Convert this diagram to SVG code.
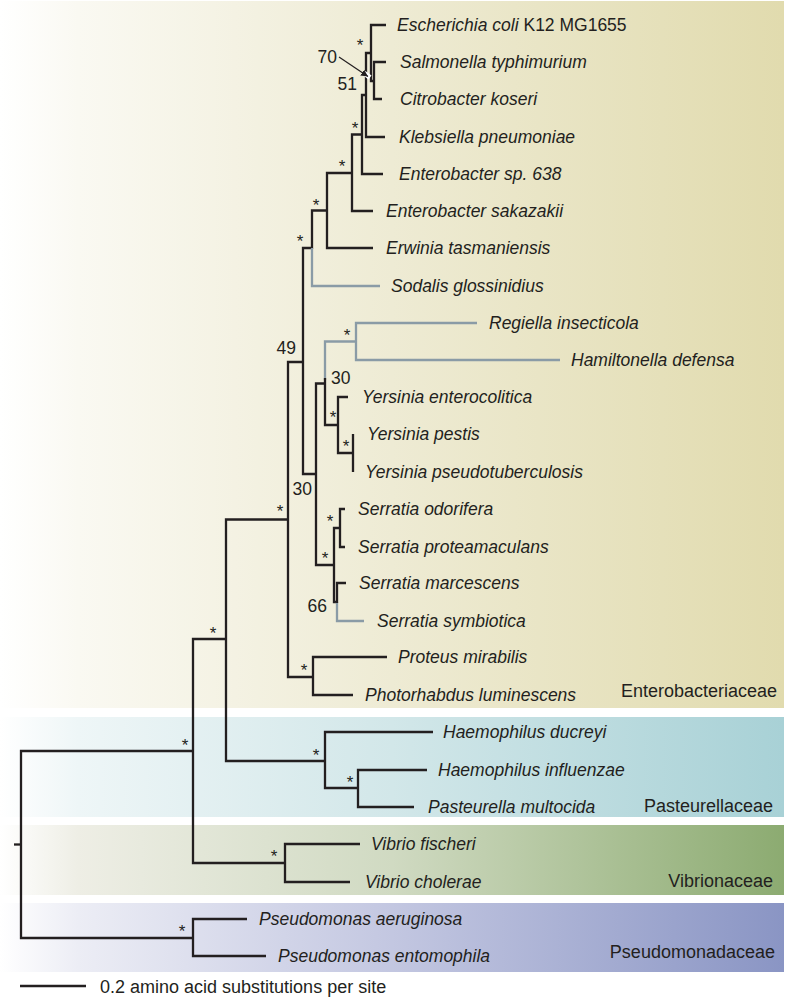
<svg xmlns="http://www.w3.org/2000/svg" width="786" height="1008" viewBox="0 0 786 1008">
<defs>
<linearGradient id="gEnt" x1="0" y1="0" x2="1" y2="0">
<stop offset="0" stop-color="#ffffff"/><stop offset="0.1" stop-color="#faf9f2"/><stop offset="0.5" stop-color="#eeebd4"/><stop offset="1" stop-color="#e1dbae"/>
</linearGradient>
<linearGradient id="gPas" x1="0" y1="0" x2="1" y2="0">
<stop offset="0" stop-color="#ffffff"/><stop offset="0.1" stop-color="#eef6f7"/><stop offset="0.5" stop-color="#d2e7e9"/><stop offset="1" stop-color="#a8d1d6"/>
</linearGradient>
<linearGradient id="gVib" x1="0" y1="0" x2="1" y2="0">
<stop offset="0" stop-color="#ffffff"/><stop offset="0.1" stop-color="#eeeee5"/><stop offset="0.5" stop-color="#d0dac2"/><stop offset="1" stop-color="#8cab71"/>
</linearGradient>
<linearGradient id="gPse" x1="0" y1="0" x2="1" y2="0">
<stop offset="0" stop-color="#ffffff"/><stop offset="0.1" stop-color="#ecedf5"/><stop offset="0.5" stop-color="#c3c7e1"/><stop offset="1" stop-color="#8a95c4"/>
</linearGradient>
<marker id="ah" viewBox="0 0 10 10" refX="10" refY="5" markerWidth="7" markerHeight="7" markerUnits="userSpaceOnUse" orient="auto">
<path d="M0 0 L10 5 L0 10 Z" fill="#231f20"/>
</marker>
</defs>
<style>
.br{fill:none;stroke:#231f20;stroke-width:2.3;stroke-linejoin:miter;stroke-linecap:butt}
.gr{fill:none;stroke:#8a9ba6;stroke-width:2.3;stroke-linejoin:miter}
.sp{font-family:"Liberation Sans",Arial,sans-serif;font-style:italic;font-size:17.5px;fill:#231f20}
.up{font-style:normal}
.fam{font-family:"Liberation Sans",Arial,sans-serif;font-size:18px;fill:#231f20;text-anchor:end}
.num{font-family:"Liberation Sans",Arial,sans-serif;font-size:17.5px;fill:#231f20}
.ast{font-family:"Liberation Sans",Arial,sans-serif;font-size:17px;fill:#231f20;text-anchor:middle}
</style>
<rect width="786" height="1008" fill="#ffffff"/>
<g id="bands">
<rect id="band-ent" x="0" y="1" width="784" height="707" fill="url(#gEnt)"/>
<rect id="band-pas" x="0" y="717" width="784" height="100" fill="url(#gPas)"/>
<rect id="band-vib" x="0" y="825" width="784" height="70" fill="url(#gVib)"/>
<rect id="band-pse" x="0" y="903" width="784" height="69" fill="url(#gPse)"/>
</g>
<g id="connectors">
<path class="br" d="M14 844.5 H21"/>
<path class="br" d="M193 751 H21 V938 H193"/>
<path class="br" d="M247 919 H193 V956 H266"/>
<path class="br" d="M226 639 H193 V863 H285"/>
<path class="br" d="M360 844 H285 V882 H350"/>
<path class="br" d="M288 519.5 H226 V761 H325"/>
<path class="br" d="M433 732 H325 V788 H358"/>
<path class="br" d="M427 770 H358 V807 H414"/>
<path class="br" d="M303 362 H288 V677 H313"/>
<path class="br" d="M387 657 H313 V695 H353"/>
<path class="br" d="M312 248 H303 V474 H316"/>
<path class="br" d="M327 210.5 H312 V249"/>
<path class="gr" d="M312 248 V286 H380"/>
<path class="br" d="M352 173 H327 V248 H373"/>
<path class="br" d="M362 134.5 H352 V211 H373"/>
<path class="br" d="M366 95 H362 V174 H383"/>
<path class="br" d="M371 53 H366 V137 H385"/>
<path class="br" d="M386 25 H371 V81 H374"/>
<path class="br" d="M386 62 H374 V99 H382"/>
<path class="br" d="M325 383.5 H316 V565 H334"/>
<path class="gr" d="M356 341.5 H325 V380"/>
<path class="br" d="M325 378 V425 H338"/>
<path class="gr" d="M477 323 H356 V360 H560"/>
<path class="br" d="M348 397 H338 V453 H353"/>
<path class="br" d="M353 434 V472"/>
<path class="br" d="M340 528 H334 V602 H337"/>
<path class="br" d="M345 509 H340 V547 H345"/>
<path class="gr" d="M337 602 V621 H364"/>
<path class="br" d="M346 583 H337 V603"/>
<path class="br" d="M20 986 H86"/>
</g>
<g id="support">
<text class="ast" x="360" y="51">*</text>
<text class="ast" x="355" y="134">*</text>
<text class="ast" x="342" y="172">*</text>
<text class="ast" x="316" y="211">*</text>
<text class="ast" x="300" y="247">*</text>
<text class="ast" x="347" y="341">*</text>
<text class="ast" x="333" y="423">*</text>
<text class="ast" x="346" y="452">*</text>
<text class="ast" x="330" y="527">*</text>
<text class="ast" x="325" y="564">*</text>
<text class="ast" x="280" y="517">*</text>
<text class="ast" x="304" y="676">*</text>
<text class="ast" x="213" y="639">*</text>
<text class="ast" x="316" y="761">*</text>
<text class="ast" x="350" y="788">*</text>
<text class="ast" x="185" y="751">*</text>
<text class="ast" x="274" y="862">*</text>
<text class="ast" x="182" y="937">*</text>
<text class="num" x="337" y="63" text-anchor="end">70</text>
<text class="num" x="357" y="90" text-anchor="end">51</text>
<text class="num" x="296" y="354" text-anchor="end">49</text>
<text class="num" x="331" y="384">30</text>
<text class="num" x="312" y="495" text-anchor="end">30</text>
<text class="num" x="327" y="612" text-anchor="end">66</text>
<path d="M364 73 L370 77.5" stroke="#ffffff" stroke-width="5" fill="none"/>
<path d="M339 57 L368 76.5" stroke="#231f20" stroke-width="1.2" fill="none" marker-end="url(#ah)"/>
</g>
<g id="taxa">
<g id="t-ecoli"><text class="sp" x="397" y="31">Escherichia coli <tspan class="up">K12 MG1655</tspan></text></g>
<g id="t-salmonella"><text class="sp" x="400" y="68">Salmonella typhimurium</text></g>
<g id="t-citrobacter"><text class="sp" x="400" y="105">Citrobacter koseri</text></g>
<g id="t-klebsiella"><text class="sp" x="399" y="143">Klebsiella pneumoniae</text></g>
<g id="t-ent638"><text class="sp" x="399" y="180">Enterobacter sp. 638</text></g>
<g id="t-sakazakii"><text class="sp" x="386" y="217">Enterobacter sakazakii</text></g>
<g id="t-erwinia"><text class="sp" x="386" y="254">Erwinia tasmaniensis</text></g>
<g id="t-sodalis"><text class="sp" x="391" y="292">Sodalis glossinidius</text></g>
<g id="t-regiella"><text class="sp" x="489" y="329">Regiella insecticola</text></g>
<g id="t-hamiltonella"><text class="sp" x="571" y="366">Hamiltonella defensa</text></g>
<g id="t-yent"><text class="sp" x="362" y="403">Yersinia enterocolitica</text></g>
<g id="t-ypestis"><text class="sp" x="367" y="440">Yersinia pestis</text></g>
<g id="t-ypseudo"><text class="sp" x="365" y="478">Yersinia pseudotuberculosis</text></g>
<g id="t-sodorifera"><text class="sp" x="358" y="515">Serratia odorifera</text></g>
<g id="t-sproteam"><text class="sp" x="358" y="553">Serratia proteamaculans</text></g>
<g id="t-smarcescens"><text class="sp" x="359" y="589">Serratia marcescens</text></g>
<g id="t-ssymbiotica"><text class="sp" x="377" y="627">Serratia symbiotica</text></g>
<g id="t-proteus"><text class="sp" x="398" y="663">Proteus mirabilis</text></g>
<g id="t-photorhabdus"><text class="sp" x="365" y="701">Photorhabdus luminescens</text></g>
<g id="t-hducreyi"><text class="sp" x="443" y="738">Haemophilus ducreyi</text></g>
<g id="t-hinfluenzae"><text class="sp" x="438" y="776">Haemophilus influenzae</text></g>
<g id="t-pasteurella"><text class="sp" x="428" y="813">Pasteurella multocida</text></g>
<g id="t-vfischeri"><text class="sp" x="371" y="850">Vibrio fischeri</text></g>
<g id="t-vcholerae"><text class="sp" x="365" y="888">Vibrio cholerae</text></g>
<g id="t-paeruginosa"><text class="sp" x="259" y="925">Pseudomonas aeruginosa</text></g>
<g id="t-pentomophila"><text class="sp" x="278" y="962">Pseudomonas entomophila</text></g>
</g>
<g id="families">
<text class="fam" x="777" y="697">Enterobacteriaceae</text>
<text class="fam" x="773" y="812">Pasteurellaceae</text>
<text class="fam" x="773" y="887">Vibrionaceae</text>
<text class="fam" x="775" y="958">Pseudomonadaceae</text>
</g>
<g id="scale">
<text class="num" x="100" y="993" style="font-size:18px">0.2 amino acid substitutions per site</text>
</g>
</svg>
